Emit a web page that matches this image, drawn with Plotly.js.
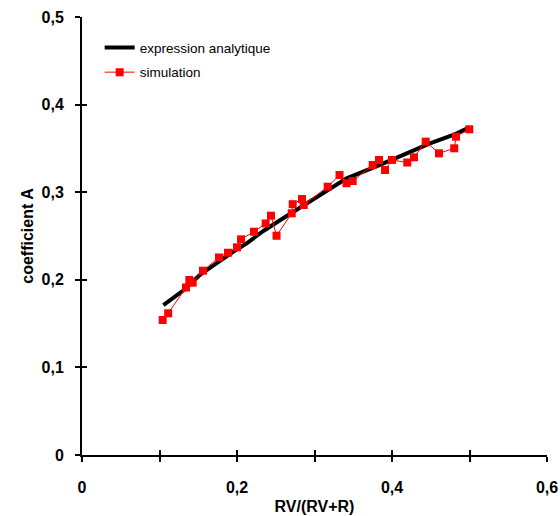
<!DOCTYPE html>
<html>
<head>
<meta charset="utf-8">
<script src="https://cdn.plot.ly/plotly-3.0.1.min.js"></script>
<style>html,body{margin:0;padding:0;background:#fff;}#chart{width:560px;height:516px;}</style>
</head>
<body>
<div id="chart"></div>
<script>
// Analytic expression (black curve)
const analyticX = [0.105, 0.131, 0.152, 0.174, 0.195, 0.2125, 0.234, 0.2555, 0.277, 0.2985, 0.32, 0.3415, 0.3845, 0.419, 0.449, 0.479, 0.5];
const analyticY = [0.171, 0.188, 0.2055, 0.2195, 0.232, 0.2417, 0.2557, 0.268, 0.2797, 0.292, 0.304, 0.3159, 0.3311, 0.3444, 0.3558, 0.3653, 0.374];

// Simulation (red squares)
const simX = [0.1041, 0.1112, 0.1342, 0.1385, 0.1428, 0.1561, 0.1768, 0.1884, 0.2000, 0.2052, 0.2219, 0.2370, 0.2439, 0.2510, 0.2706, 0.2719, 0.2839, 0.2861, 0.3170, 0.3323, 0.3413, 0.3493, 0.3751, 0.3832, 0.3910, 0.4000, 0.4197, 0.4284, 0.4435, 0.4606, 0.4803, 0.4826, 0.4997];
const simY = [0.1541, 0.1618, 0.1912, 0.1998, 0.1967, 0.2104, 0.2255, 0.2309, 0.2371, 0.2462, 0.2549, 0.2643, 0.2732, 0.2503, 0.2759, 0.2863, 0.2922, 0.2854, 0.3063, 0.3196, 0.3102, 0.3128, 0.3311, 0.3368, 0.3253, 0.3368, 0.3339, 0.3398, 0.3577, 0.3444, 0.3501, 0.3634, 0.3718];

const xTickVals = [0, 0.1, 0.2, 0.3, 0.4, 0.5, 0.6];
const xTickText = ['0', '', '0,2', '', '0,4', '', '0,6'];
const yTickVals = [0, 0.1, 0.2, 0.3, 0.4, 0.5];
const yTickText = ['0', '0,1', '0,2', '0,3', '0,4', '0,5'];

const seriesNames = ['expression analytique', 'simulation'];

const FONT = 'Liberation Sans, Arial, Helvetica, sans-serif';

const traces = [
  {
    x: analyticX, y: analyticY, name: seriesNames[0], type: 'scatter', mode: 'lines',
    legendgroup: 'a',
    line: {color: '#000000', width: 4}
  },
  {
    x: simX, y: simY, name: seriesNames[1], type: 'scatter', mode: 'lines+markers',
    legendgroup: 'b',
    line: {color: '#ff0000', width: 1},
    marker: {symbol: 'square', size: 8, color: '#ff0000'}
  },
  {
    x: [], y: [], xaxis: 'x2', yaxis: 'y2', showlegend: false, hoverinfo: 'skip', type: 'scatter', mode: 'markers'
  }
];

const baseAxis = {
  showgrid: false, zeroline: false, showline: true, linecolor: '#000', linewidth: 2,
  ticks: 'outside', ticklen: 5, tickwidth: 2, tickcolor: '#000',
  tickfont: {family: FONT, size: 16, color: '#000', weight: 700},
  fixedrange: true
};

const layout = {
  width: 560, height: 516,
  margin: {l: 82, r: 13, t: 17, b: 61},
  paper_bgcolor: '#fff', plot_bgcolor: '#fff',
  showlegend: true,
  legend: {
    x: 0.038, y: 0.965, xanchor: 'left', yanchor: 'top',
    font: {family: FONT, size: 13.5, color: '#000'},
    bgcolor: 'rgba(0,0,0,0)', borderwidth: 0,
    traceorder: 'grouped', tracegroupgap: 4,
    itemwidth: 30
  },
  hovermode: false,
  xaxis: Object.assign({}, baseAxis, {
    range: [0, 0.6], tickmode: 'array', tickvals: xTickVals, ticktext: xTickText,
    ticklabelstandoff: 12,
    title: {text: 'RV/(RV+R)', font: {family: FONT, size: 16, color: '#000', weight: 700}, standoff: 6}
  }),
  yaxis: Object.assign({}, baseAxis, {
    range: [0, 0.5], tickmode: 'array', tickvals: yTickVals, ticktext: yTickText,
    ticklabelstandoff: 8,
    title: {text: 'coefficient A', font: {family: FONT, size: 16, color: '#000', weight: 700}, standoff: 4}
  }),
  xaxis2: {
    overlaying: 'x', anchor: 'y2', side: 'bottom', range: [0, 0.6],
    showgrid: false, zeroline: false, showline: false, showticklabels: false,
    tickmode: 'array', tickvals: xTickVals,
    ticks: 'inside', ticklen: 5, tickwidth: 2, tickcolor: '#000', fixedrange: true
  },
  yaxis2: {
    overlaying: 'y', anchor: 'x2', side: 'left', range: [0, 0.5],
    showgrid: false, zeroline: false, showline: false, showticklabels: false,
    tickmode: 'array', tickvals: yTickVals,
    ticks: 'inside', ticklen: 5, tickwidth: 2, tickcolor: '#000', fixedrange: true
  }
};

Plotly.newPlot('chart', traces, layout, {displayModeBar: false, staticPlot: true});
</script>
</body>
</html>
